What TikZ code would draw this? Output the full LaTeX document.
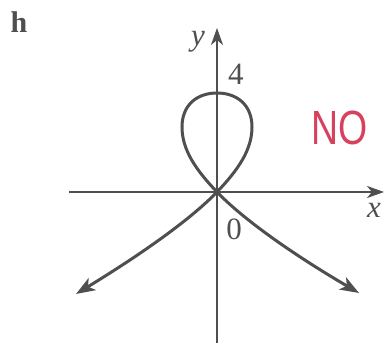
\documentclass[tikz,border=0pt]{standalone}
\usepackage{fontspec}
\setmainfont{Liberation Serif}
\newfontfamily\nofont{Liberation Sans}
\usetikzlibrary{arrows.meta}
\definecolor{ink}{HTML}{4F4F4F}
\definecolor{redink}{HTML}{D8405E}
\tikzset{
  axis/.style={draw=ink, line width=2.4pt, -{Stealth[length=17pt,width=12pt,inset=5pt]}},
  curve/.style={draw=ink, line width=3pt},
  tiparrow/.style={-{Stealth[length=19pt,width=14pt,inset=5pt]}},
  lbl/.style={text=ink, font=\fontsize{31}{34}\selectfont, inner sep=0pt},
}
\begin{document}
\begin{tikzpicture}[x=1pt,y=-1pt]
\useasboundingbox (0,0) rectangle (384,347);
\coordinate (O) at (217,192);
\coordinate (xs) at (69,192);
\coordinate (xe) at (384,192);
\coordinate (ys) at (217,343);
\coordinate (ye) at (217,28);
\coordinate (L) at (76,294);
\coordinate (R) at (359,293);
\draw[axis] (xs) -- (xe);
\draw[axis] (ys) -- (ye);
% loop and left branch
\draw[curve, {Stealth[length=19pt,width=14pt,inset=5pt]}-] (L) .. controls (140,255) and (190,220) .. (O)
  .. controls (238,170) and (252,150) .. (252,127)
  .. controls (252,105) and (237,93) .. (217,93)
  .. controls (197,93) and (182,105) .. (182,127)
  .. controls (182,150) and (196,170) .. (O);
\draw[curve, tiparrow] (O) .. controls (244,220) and (294,255) .. (R);
\node[lbl] (ylab) at (198,42) {\itshape y};
\node[lbl] (four) at (236,74) {4};
\node[lbl] (xlab) at (374,210) {\itshape x};
\node[lbl] (zero) at (234,229) {0};
\node[lbl, font=\fontsize{30}{34}\selectfont\bfseries] (h) at (19,22) {h};
\node[text=redink, inner sep=0pt, xscale=0.78, font=\nofont\fontsize{48}{50}\selectfont] (no) at (340,128) {NO};
\end{tikzpicture}
\end{document}
